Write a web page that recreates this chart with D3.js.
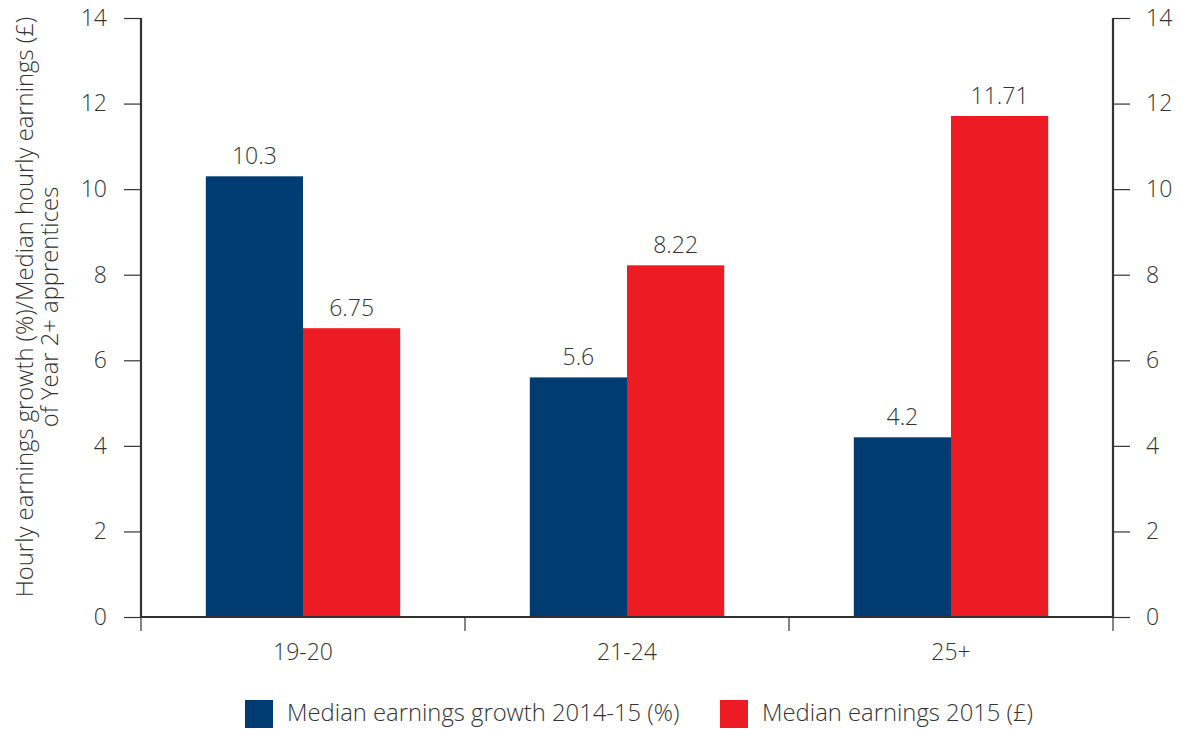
<!DOCTYPE html>
<html><head><meta charset="utf-8">
<script src="https://cdn.jsdelivr.net/npm/d3@7"></script>
<style>body{margin:0;background:#fff}text{font-family:"Open Sans",Roboto,sans-serif;font-weight:300;fill:#333}</style>
</head><body>
<svg id="c" width="1181" height="729"></svg>
<script>
const categories = ["19-20", "21-24", "25+"];
const seriesNames = ["Median earnings growth 2014-15 (%)", "Median earnings 2015 (£)"];
const growth = [10.3, 5.6, 4.2];
const earnings = [6.75, 8.22, 11.71];
const growthLabels = ["10.3", "5.6", "4.2"];
const earningsLabels = ["6.75", "8.22", "11.71"];
const yTicks = [0, 2, 4, 6, 8, 10, 12, 14];
const colors = ["#003c71", "#ed1c24"];

const svg = d3.select("#c");
const L = 141, R = 1113, T = 18, B = 617;
const FS = 23, FT = 23.8;
const y = d3.scaleLinear().domain([0, 14]).range([B, T]);
const x0 = d3.scaleBand().domain(categories).range([L, R]);
const x1 = d3.scaleBand().domain([0, 1]).range([x0.bandwidth() * 0.2, x0.bandwidth() * 0.8]);

const series = [growth, earnings];
const labels = [growthLabels, earningsLabels];

// bars
series.forEach((vals, si) => {
  svg.append("g").selectAll("rect").data(vals).join("rect")
    .attr("x", (d, i) => x0(categories[i]) + x1(si))
    .attr("width", x1.bandwidth())
    .attr("y", d => y(d))
    .attr("height", d => B - y(d))
    .attr("fill", colors[si]);
  svg.append("g").selectAll("text").data(vals).join("text")
    .attr("x", (d, i) => x0(categories[i]) + x1(si) + x1.bandwidth() / 2)
    .attr("y", d => y(d) - 12)
    .attr("text-anchor", "middle")
    .attr("font-size", FS)
    .text((d, i) => labels[si][i]);
});

// side axes
const la = svg.append("g").attr("transform", `translate(${L},0)`)
  .call(d3.axisLeft(y).tickValues(yTicks).tickSize(17).tickPadding(17).tickFormat(d3.format("d")));
const ra = svg.append("g").attr("transform", `translate(${R},0)`)
  .call(d3.axisRight(y).tickValues(yTicks).tickSize(17).tickPadding(16).tickFormat(d3.format("d")));
[la, ra].forEach(g => {
  g.select(".domain").remove();
  g.selectAll(".tick line").attr("stroke", "#333").attr("stroke-width", 1.2);
  g.selectAll(".tick text").attr("font-size", FS).attr("font-family", null).attr("fill", "#333");
});
svg.append("line").attr("x1", L).attr("x2", L).attr("y1", T).attr("y2", B + 1).attr("stroke", "#333").attr("stroke-width", 2.2);
svg.append("line").attr("x1", R).attr("x2", R).attr("y1", T).attr("y2", B + 1).attr("stroke", "#333").attr("stroke-width", 2.2);

// bottom axis
const xb = svg.append("g").attr("transform", `translate(0,${B})`);
xb.append("line").attr("x1", L).attr("x2", R).attr("stroke", "#333").attr("stroke-width", 2.2);
const bounds = categories.map(c => x0(c)).concat([R]);
xb.selectAll("line.t").data(bounds).join("line").attr("class", "t")
  .attr("x1", d => d).attr("x2", d => d).attr("y1", 0).attr("y2", 14)
  .attr("stroke", "#333").attr("stroke-width", 1.2);
xb.selectAll("text").data(categories).join("text")
  .attr("x", d => x0(d) + x0.bandwidth() / 2)
  .attr("y", 43)
  .attr("text-anchor", "middle").attr("font-size", FS)
  .text(d => d);

// y title
const yt = svg.append("text").attr("transform", "translate(33,307) rotate(-90)")
  .attr("text-anchor", "middle").attr("font-size", FT);
yt.append("tspan").attr("x", 0).attr("dy", 0).text("Hourly earnings growth (%)/Median hourly earnings (£)");
yt.append("tspan").attr("x", 0).attr("dy", 25).text("of Year 2+ apprentices");

// legend
const lg = [[245, 287], [720, 762]];
seriesNames.forEach((n, i) => {
  svg.append("rect").attr("x", lg[i][0]).attr("y", 700).attr("width", 28).attr("height", 28).attr("fill", colors[i]);
  svg.append("text").attr("x", lg[i][1]).attr("y", 721).attr("font-size", FT).text(n);
});
</script>
</body></html>
